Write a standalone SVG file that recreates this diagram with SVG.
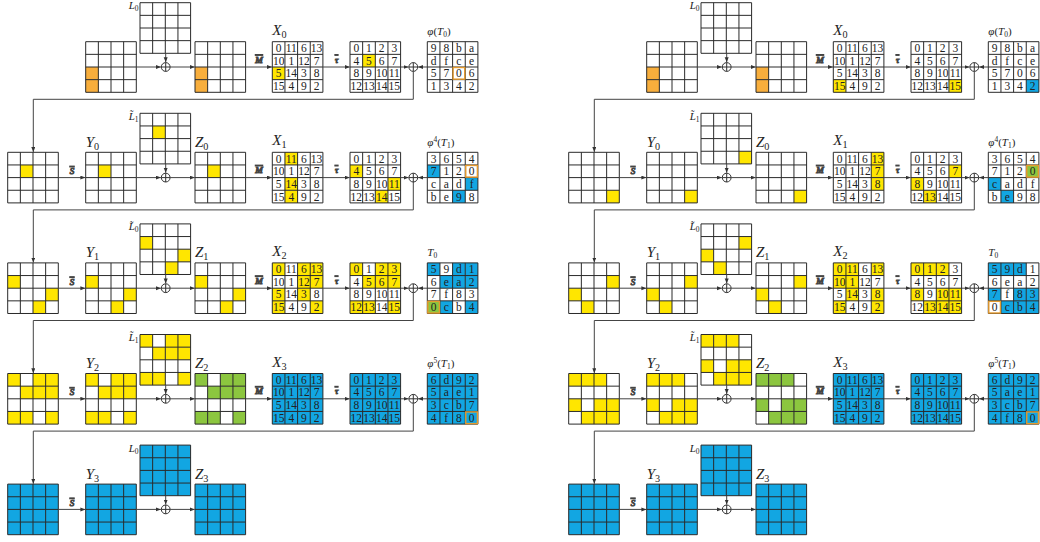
<svg xmlns="http://www.w3.org/2000/svg" width="1040" height="542" viewBox="0 0 1040 542">
<style>
.n{font-family:"Liberation Serif","DejaVu Serif",serif;font-size:11.5px;fill:#222;text-anchor:middle}
.lb{font-family:"Liberation Serif","DejaVu Serif",serif;font-style:italic;font-size:15px;fill:#222}
.ls{font-family:"Liberation Serif","DejaVu Serif",serif;font-style:italic;font-size:11px;fill:#222}
.ph{font-family:"Liberation Serif","DejaVu Serif",serif;font-size:11px;fill:#222}
.op{font-family:"Liberation Serif","DejaVu Serif",serif;font-style:italic;font-size:9px;fill:#333;text-anchor:middle;text-decoration:overline}
.sb{font-style:normal;font-size:0.68em}
.it{font-style:italic}
.y{fill:#FFE600}.o{fill:#F8AE3C}.b{fill:#12A6E2}.g{fill:#8CC63F}
.ob{fill:none;stroke:#E49A2E;stroke-width:1.4}
.grid{fill:none;stroke:#2a2a2a;stroke-width:1}
.cn{fill:none;stroke:#444;stroke-width:1}
.cn .a{marker-end:url(#ah)}
</style>
<defs>
<marker id="ah" markerUnits="userSpaceOnUse" markerWidth="6" markerHeight="5" refX="5" refY="2" orient="auto"><path d="M0,0L5,2L0,4z" fill="#333"/></marker>
<rect id="c" width="12.65" height="12.65"/>
<path id="grid" class="grid" d="M0 0H50.6V50.6H0ZM12.65 0V50.6M25.3 0V50.6M37.95 0V50.6M0 12.65H50.6M0 25.3H50.6M0 37.95H50.6"/>
<g id="xor"><circle r="4.4" fill="#fff" stroke="#333" stroke-width="1"/><path d="M-4.4 0H4.4M0 -4.4V4.4" stroke="#333" stroke-width="1"/></g>
<rect id="allb" class="b" width="50.6" height="50.6"/>
</defs>

<!-- ================= LEFT HALF ================= -->
<g id="left">
<g id="L1A" transform="translate(85.7,41.7)"><use href="#c" class="o" x="0" y="25.3"/><use href="#c" class="o" x="0" y="37.95"/><use href="#grid"/></g>
<g id="L1L" transform="translate(140,2.7)"><use href="#grid"/><text class="ls" x="-1.5" y="6.5" text-anchor="end">L<tspan class="sb" dy="2">0</tspan></text></g>
<g id="L1Z" transform="translate(195,41.7)"><use href="#c" class="o" x="0" y="25.3"/><use href="#c" class="o" x="0" y="37.95"/><use href="#grid"/></g>
<g id="L1X" transform="translate(272.3,41.7)"><use href="#c" class="y" x="0" y="25.3"/>
<text class="n" y="10.3"><tspan x="6.33">0</tspan><tspan x="18.98">11</tspan><tspan x="31.63">6</tspan><tspan x="44.28">13</tspan></text>
<text class="n" y="22.95"><tspan x="6.33">10</tspan><tspan x="18.98">1</tspan><tspan x="31.63">12</tspan><tspan x="44.28">7</tspan></text>
<text class="n" y="35.6"><tspan x="6.33">5</tspan><tspan x="18.98">14</tspan><tspan x="31.63">3</tspan><tspan x="44.28">8</tspan></text>
<text class="n" y="48.25"><tspan x="6.33">15</tspan><tspan x="18.98">4</tspan><tspan x="31.63">9</tspan><tspan x="44.28">2</tspan></text>
<use href="#grid"/><text class="lb" x="0" y="-7">X<tspan class="sb" dy="3">0</tspan></text></g>
<g id="L1T" transform="translate(350,41.7)"><use href="#c" class="y" x="12.65" y="12.65"/>
<text class="n" y="10.3"><tspan x="6.33">0</tspan><tspan x="18.98">1</tspan><tspan x="31.63">2</tspan><tspan x="44.28">3</tspan></text>
<text class="n" y="22.95"><tspan x="6.33">4</tspan><tspan x="18.98">5</tspan><tspan x="31.63">6</tspan><tspan x="44.28">7</tspan></text>
<text class="n" y="35.6"><tspan x="6.33">8</tspan><tspan x="18.98">9</tspan><tspan x="31.63">10</tspan><tspan x="44.28">11</tspan></text>
<text class="n" y="48.25"><tspan x="6.33">12</tspan><tspan x="18.98">13</tspan><tspan x="31.63">14</tspan><tspan x="44.28">15</tspan></text>
<use href="#grid"/></g>
<g id="L1P" transform="translate(427.3,41.7)">
<text class="n" y="10.3"><tspan x="6.33">9</tspan><tspan x="18.98">8</tspan><tspan x="31.63">b</tspan><tspan x="44.28">a</tspan></text>
<text class="n" y="22.95"><tspan x="6.33">d</tspan><tspan x="18.98">f</tspan><tspan x="31.63">c</tspan><tspan x="44.28">e</tspan></text>
<text class="n" y="35.6"><tspan x="6.33">5</tspan><tspan x="18.98">7</tspan><tspan x="31.63">0</tspan><tspan x="44.28">6</tspan></text>
<text class="n" y="48.25"><tspan x="6.33">1</tspan><tspan x="18.98">3</tspan><tspan x="31.63">4</tspan><tspan x="44.28">2</tspan></text>
<use href="#grid"/><rect class="ob" x="25.8" y="25.8" width="11.65" height="11.65"/>
<text class="ph" x="0" y="-6.5"><tspan class="it">φ</tspan>(<tspan class="it">T</tspan><tspan class="sb" dy="2">0</tspan><tspan dy="-2">)</tspan></text></g>

<g id="L2A" transform="translate(7.7,152.3)"><use href="#c" class="y" x="12.65" y="12.65"/><use href="#grid"/></g>
<g id="L2Y" transform="translate(85.7,152.3)"><use href="#c" class="y" x="12.65" y="12.65"/><use href="#grid"/><text class="lb" x="0" y="-5.5">Y<tspan class="sb" dy="3">0</tspan></text></g>
<g id="L2L" transform="translate(140,113.3)"><use href="#c" class="y" x="12.65" y="12.65"/><use href="#grid"/><text class="ls" x="-1.5" y="6.5" text-anchor="end">L̃<tspan class="sb" dy="2">1</tspan></text></g>
<g id="L2Z" transform="translate(195,152.3)"><use href="#c" class="y" x="12.65" y="12.65"/><use href="#grid"/><text class="lb" x="0" y="-5.5">Z<tspan class="sb" dy="3">0</tspan></text></g>
<g id="L2X" transform="translate(272.3,152.3)"><use href="#c" class="y" x="12.65" y="0"/><use href="#c" class="y" x="12.65" y="25.3"/><use href="#c" class="y" x="12.65" y="37.95"/>
<text class="n" y="10.3"><tspan x="6.33">0</tspan><tspan x="18.98">11</tspan><tspan x="31.63">6</tspan><tspan x="44.28">13</tspan></text>
<text class="n" y="22.95"><tspan x="6.33">10</tspan><tspan x="18.98">1</tspan><tspan x="31.63">12</tspan><tspan x="44.28">7</tspan></text>
<text class="n" y="35.6"><tspan x="6.33">5</tspan><tspan x="18.98">14</tspan><tspan x="31.63">3</tspan><tspan x="44.28">8</tspan></text>
<text class="n" y="48.25"><tspan x="6.33">15</tspan><tspan x="18.98">4</tspan><tspan x="31.63">9</tspan><tspan x="44.28">2</tspan></text>
<use href="#grid"/><text class="lb" x="0" y="-7">X<tspan class="sb" dy="3">1</tspan></text></g>
<g id="L2T" transform="translate(350,152.3)"><use href="#c" class="y" x="0" y="12.65"/><use href="#c" class="y" x="37.95" y="25.3"/><use href="#c" class="y" x="25.3" y="37.95"/>
<text class="n" y="10.3"><tspan x="6.33">0</tspan><tspan x="18.98">1</tspan><tspan x="31.63">2</tspan><tspan x="44.28">3</tspan></text>
<text class="n" y="22.95"><tspan x="6.33">4</tspan><tspan x="18.98">5</tspan><tspan x="31.63">6</tspan><tspan x="44.28">7</tspan></text>
<text class="n" y="35.6"><tspan x="6.33">8</tspan><tspan x="18.98">9</tspan><tspan x="31.63">10</tspan><tspan x="44.28">11</tspan></text>
<text class="n" y="48.25"><tspan x="6.33">12</tspan><tspan x="18.98">13</tspan><tspan x="31.63">14</tspan><tspan x="44.28">15</tspan></text>
<use href="#grid"/></g>
<g id="L2P" transform="translate(427.3,152.3)"><use href="#c" class="b" x="0" y="12.65"/><use href="#c" class="b" x="37.95" y="25.3"/><use href="#c" class="b" x="25.3" y="37.95"/>
<text class="n" y="10.3"><tspan x="6.33">3</tspan><tspan x="18.98">6</tspan><tspan x="31.63">5</tspan><tspan x="44.28">4</tspan></text>
<text class="n" y="22.95"><tspan x="6.33">7</tspan><tspan x="18.98">1</tspan><tspan x="31.63">2</tspan><tspan x="44.28">0</tspan></text>
<text class="n" y="35.6"><tspan x="6.33">c</tspan><tspan x="18.98">a</tspan><tspan x="31.63">d</tspan><tspan x="44.28">f</tspan></text>
<text class="n" y="48.25"><tspan x="6.33">b</tspan><tspan x="18.98">e</tspan><tspan x="31.63">9</tspan><tspan x="44.28">8</tspan></text>
<use href="#grid"/><rect class="ob" x="38.45" y="13.15" width="11.65" height="11.65"/>
<text class="ph" x="0" y="-6.5"><tspan class="it">φ</tspan><tspan class="sb" dy="-4">4</tspan><tspan dy="4">(</tspan><tspan class="it">T</tspan><tspan class="sb" dy="2">1</tspan><tspan dy="-2">)</tspan></text></g>

<g id="L3A" transform="translate(7.7,262.9)"><use href="#c" class="y" x="0" y="12.65"/><use href="#c" class="y" x="37.95" y="25.3"/><use href="#c" class="y" x="25.3" y="37.95"/><use href="#grid"/></g>
<g id="L3Y" transform="translate(85.7,262.9)"><use href="#c" class="y" x="0" y="12.65"/><use href="#c" class="y" x="37.95" y="25.3"/><use href="#c" class="y" x="25.3" y="37.95"/><use href="#grid"/><text class="lb" x="0" y="-5.5">Y<tspan class="sb" dy="3">1</tspan></text></g>
<g id="L3L" transform="translate(140,223.9)"><use href="#c" class="y" x="0" y="12.65"/><use href="#c" class="y" x="37.95" y="25.3"/><use href="#c" class="y" x="25.3" y="37.95"/><use href="#grid"/><text class="ls" x="-1.5" y="6.5" text-anchor="end">L̃<tspan class="sb" dy="2">0</tspan></text></g>
<g id="L3Z" transform="translate(195,262.9)"><use href="#c" class="y" x="0" y="12.65"/><use href="#c" class="y" x="37.95" y="25.3"/><use href="#c" class="y" x="25.3" y="37.95"/><use href="#grid"/><text class="lb" x="0" y="-5.5">Z<tspan class="sb" dy="3">1</tspan></text></g>
<g id="L3X" transform="translate(272.3,262.9)"><use href="#c" class="y" x="0" y="0"/><use href="#c" class="y" x="25.3" y="0"/><use href="#c" class="y" x="37.95" y="0"/><use href="#c" class="y" x="25.3" y="12.65"/><use href="#c" class="y" x="37.95" y="12.65"/><use href="#c" class="y" x="0" y="25.3"/><use href="#c" class="y" x="25.3" y="25.3"/><use href="#c" class="y" x="0" y="37.95"/><use href="#c" class="y" x="37.95" y="37.95"/>
<text class="n" y="10.3"><tspan x="6.33">0</tspan><tspan x="18.98">11</tspan><tspan x="31.63">6</tspan><tspan x="44.28">13</tspan></text>
<text class="n" y="22.95"><tspan x="6.33">10</tspan><tspan x="18.98">1</tspan><tspan x="31.63">12</tspan><tspan x="44.28">7</tspan></text>
<text class="n" y="35.6"><tspan x="6.33">5</tspan><tspan x="18.98">14</tspan><tspan x="31.63">3</tspan><tspan x="44.28">8</tspan></text>
<text class="n" y="48.25"><tspan x="6.33">15</tspan><tspan x="18.98">4</tspan><tspan x="31.63">9</tspan><tspan x="44.28">2</tspan></text>
<use href="#grid"/><text class="lb" x="0" y="-7">X<tspan class="sb" dy="3">2</tspan></text></g>
<g id="L3T" transform="translate(350,262.9)"><use href="#c" class="y" x="0" y="0"/><use href="#c" class="y" x="25.3" y="0"/><use href="#c" class="y" x="37.95" y="0"/><use href="#c" class="y" x="12.65" y="12.65"/><use href="#c" class="y" x="25.3" y="12.65"/><use href="#c" class="y" x="37.95" y="12.65"/><use href="#c" class="y" x="0" y="37.95"/><use href="#c" class="y" x="12.65" y="37.95"/><use href="#c" class="y" x="37.95" y="37.95"/>
<text class="n" y="10.3"><tspan x="6.33">0</tspan><tspan x="18.98">1</tspan><tspan x="31.63">2</tspan><tspan x="44.28">3</tspan></text>
<text class="n" y="22.95"><tspan x="6.33">4</tspan><tspan x="18.98">5</tspan><tspan x="31.63">6</tspan><tspan x="44.28">7</tspan></text>
<text class="n" y="35.6"><tspan x="6.33">8</tspan><tspan x="18.98">9</tspan><tspan x="31.63">10</tspan><tspan x="44.28">11</tspan></text>
<text class="n" y="48.25"><tspan x="6.33">12</tspan><tspan x="18.98">13</tspan><tspan x="31.63">14</tspan><tspan x="44.28">15</tspan></text>
<use href="#grid"/></g>
<g id="L3P" transform="translate(427.3,262.9)"><use href="#c" class="b" x="0" y="0"/><use href="#c" class="b" x="25.3" y="0"/><use href="#c" class="b" x="37.95" y="0"/><use href="#c" class="b" x="12.65" y="12.65"/><use href="#c" class="b" x="25.3" y="12.65"/><use href="#c" class="b" x="37.95" y="12.65"/><use href="#c" class="g" x="0" y="37.95"/><use href="#c" class="b" x="12.65" y="37.95"/><use href="#c" class="b" x="37.95" y="37.95"/>
<text class="n" y="10.3"><tspan x="6.33">5</tspan><tspan x="18.98">9</tspan><tspan x="31.63">d</tspan><tspan x="44.28">1</tspan></text>
<text class="n" y="22.95"><tspan x="6.33">6</tspan><tspan x="18.98">e</tspan><tspan x="31.63">a</tspan><tspan x="44.28">2</tspan></text>
<text class="n" y="35.6"><tspan x="6.33">7</tspan><tspan x="18.98">f</tspan><tspan x="31.63">8</tspan><tspan x="44.28">3</tspan></text>
<text class="n" y="48.25"><tspan x="6.33">0</tspan><tspan x="18.98">c</tspan><tspan x="31.63">b</tspan><tspan x="44.28">4</tspan></text>
<use href="#grid"/><rect class="ob" x="0.5" y="38.45" width="11.65" height="11.65"/>
<text class="ph" x="0" y="-6.5"><tspan class="it">T</tspan><tspan class="sb" dy="2">0</tspan></text></g>

<g id="L4A" transform="translate(7.7,373.5)"><use href="#c" class="y" x="0" y="0"/><use href="#c" class="y" x="25.3" y="0"/><use href="#c" class="y" x="37.95" y="0"/><use href="#c" class="y" x="12.65" y="12.65"/><use href="#c" class="y" x="25.3" y="12.65"/><use href="#c" class="y" x="37.95" y="12.65"/><use href="#c" class="y" x="0" y="37.95"/><use href="#c" class="y" x="12.65" y="37.95"/><use href="#c" class="y" x="37.95" y="37.95"/><use href="#grid"/></g>
<g id="L4Y" transform="translate(85.7,373.5)"><use href="#c" class="y" x="0" y="0"/><use href="#c" class="y" x="25.3" y="0"/><use href="#c" class="y" x="37.95" y="0"/><use href="#c" class="y" x="12.65" y="12.65"/><use href="#c" class="y" x="25.3" y="12.65"/><use href="#c" class="y" x="37.95" y="12.65"/><use href="#c" class="y" x="0" y="37.95"/><use href="#c" class="y" x="12.65" y="37.95"/><use href="#c" class="y" x="37.95" y="37.95"/><use href="#grid"/><text class="lb" x="0" y="-5.5">Y<tspan class="sb" dy="3">2</tspan></text></g>
<g id="L4L" transform="translate(140,334.5)"><use href="#c" class="y" x="0" y="0"/><use href="#c" class="y" x="25.3" y="0"/><use href="#c" class="y" x="37.95" y="0"/><use href="#c" class="y" x="12.65" y="12.65"/><use href="#c" class="y" x="25.3" y="12.65"/><use href="#c" class="y" x="37.95" y="12.65"/><use href="#c" class="y" x="0" y="37.95"/><use href="#c" class="y" x="12.65" y="37.95"/><use href="#c" class="y" x="37.95" y="37.95"/><use href="#grid"/><text class="ls" x="-1.5" y="6.5" text-anchor="end">L̃<tspan class="sb" dy="2">1</tspan></text></g>
<g id="L4Z" transform="translate(195,373.5)"><use href="#c" class="g" x="0" y="0"/><use href="#c" class="g" x="25.3" y="0"/><use href="#c" class="g" x="37.95" y="0"/><use href="#c" class="g" x="12.65" y="12.65"/><use href="#c" class="g" x="25.3" y="12.65"/><use href="#c" class="g" x="37.95" y="12.65"/><use href="#c" class="g" x="0" y="37.95"/><use href="#c" class="g" x="12.65" y="37.95"/><use href="#c" class="g" x="37.95" y="37.95"/><use href="#grid"/><text class="lb" x="0" y="-5.5">Z<tspan class="sb" dy="3">2</tspan></text></g>
<g id="L4X" transform="translate(272.3,373.5)"><use href="#allb"/>
<text class="n" y="10.3"><tspan x="6.33">0</tspan><tspan x="18.98">11</tspan><tspan x="31.63">6</tspan><tspan x="44.28">13</tspan></text>
<text class="n" y="22.95"><tspan x="6.33">10</tspan><tspan x="18.98">1</tspan><tspan x="31.63">12</tspan><tspan x="44.28">7</tspan></text>
<text class="n" y="35.6"><tspan x="6.33">5</tspan><tspan x="18.98">14</tspan><tspan x="31.63">3</tspan><tspan x="44.28">8</tspan></text>
<text class="n" y="48.25"><tspan x="6.33">15</tspan><tspan x="18.98">4</tspan><tspan x="31.63">9</tspan><tspan x="44.28">2</tspan></text>
<use href="#grid"/><text class="lb" x="0" y="-7">X<tspan class="sb" dy="3">3</tspan></text></g>
<g id="L4T" transform="translate(350,373.5)"><use href="#allb"/>
<text class="n" y="10.3"><tspan x="6.33">0</tspan><tspan x="18.98">1</tspan><tspan x="31.63">2</tspan><tspan x="44.28">3</tspan></text>
<text class="n" y="22.95"><tspan x="6.33">4</tspan><tspan x="18.98">5</tspan><tspan x="31.63">6</tspan><tspan x="44.28">7</tspan></text>
<text class="n" y="35.6"><tspan x="6.33">8</tspan><tspan x="18.98">9</tspan><tspan x="31.63">10</tspan><tspan x="44.28">11</tspan></text>
<text class="n" y="48.25"><tspan x="6.33">12</tspan><tspan x="18.98">13</tspan><tspan x="31.63">14</tspan><tspan x="44.28">15</tspan></text>
<use href="#grid"/></g>
<g id="L4P" transform="translate(427.3,373.5)"><use href="#allb"/>
<text class="n" y="10.3"><tspan x="6.33">6</tspan><tspan x="18.98">d</tspan><tspan x="31.63">9</tspan><tspan x="44.28">2</tspan></text>
<text class="n" y="22.95"><tspan x="6.33">5</tspan><tspan x="18.98">a</tspan><tspan x="31.63">e</tspan><tspan x="44.28">1</tspan></text>
<text class="n" y="35.6"><tspan x="6.33">3</tspan><tspan x="18.98">c</tspan><tspan x="31.63">b</tspan><tspan x="44.28">7</tspan></text>
<text class="n" y="48.25"><tspan x="6.33">4</tspan><tspan x="18.98">f</tspan><tspan x="31.63">8</tspan><tspan x="44.28">0</tspan></text>
<use href="#grid"/><rect class="ob" x="38.45" y="38.45" width="11.65" height="11.65"/>
<text class="ph" x="0" y="-6.5"><tspan class="it">φ</tspan><tspan class="sb" dy="-4">5</tspan><tspan dy="4">(</tspan><tspan class="it">T</tspan><tspan class="sb" dy="2">1</tspan><tspan dy="-2">)</tspan></text></g>

<g id="L5A" transform="translate(7.7,484.1)"><use href="#allb"/><use href="#grid"/></g>
<g id="L5Y" transform="translate(85.7,484.1)"><use href="#allb"/><use href="#grid"/><text class="lb" x="0" y="-5.5">Y<tspan class="sb" dy="3">3</tspan></text></g>
<g id="L5L" transform="translate(140,445.1)"><use href="#allb"/><use href="#grid"/><text class="ls" x="-1.5" y="6.5" text-anchor="end">L<tspan class="sb" dy="2">0</tspan></text></g>
<g id="L5Z" transform="translate(195,484.1)"><use href="#allb"/><use href="#grid"/><text class="lb" x="0" y="-5.5">Z<tspan class="sb" dy="3">3</tspan></text></g>

<g id="Lconn" class="cn">
<path class="a" d="M136.3 67H160.9"/><path class="a" d="M165.7 53.3V62.2"/><path class="a" d="M170.1 67H194.8"/><path class="a" d="M245.7 67H272"/><path class="a" d="M323 67H349.7"/><path class="a" d="M400.7 67H408.5"/><path class="a" d="M427.3 67H418.1"/><path class="a" d="M413.3 71.4V99.3H33.3V152"/>
<path class="a" d="M58.3 177.6H85.4"/><path class="a" d="M136.3 177.6H160.9"/><path class="a" d="M165.7 163.9V172.8"/><path class="a" d="M170.1 177.6H194.8"/><path class="a" d="M245.7 177.6H272"/><path class="a" d="M323 177.6H349.7"/><path class="a" d="M400.7 177.6H408.5"/><path class="a" d="M427.3 177.6H418.1"/><path class="a" d="M413.3 182V209.9H33.3V262.6"/>
<path class="a" d="M58.3 288.2H85.4"/><path class="a" d="M136.3 288.2H160.9"/><path class="a" d="M165.7 274.5V283.4"/><path class="a" d="M170.1 288.2H194.8"/><path class="a" d="M245.7 288.2H272"/><path class="a" d="M323 288.2H349.7"/><path class="a" d="M400.7 288.2H408.5"/><path class="a" d="M427.3 288.2H418.1"/><path class="a" d="M413.3 292.6V320.5H33.3V373.2"/>
<path class="a" d="M58.3 398.8H85.4"/><path class="a" d="M136.3 398.8H160.9"/><path class="a" d="M165.7 385.1V394"/><path class="a" d="M170.1 398.8H194.8"/><path class="a" d="M245.7 398.8H272"/><path class="a" d="M323 398.8H349.7"/><path class="a" d="M400.7 398.8H408.5"/><path class="a" d="M427.3 398.8H418.1"/><path class="a" d="M413.3 403.2V431.1H33.3V483.8"/>
<path class="a" d="M58.3 509.4H85.4"/><path class="a" d="M136.3 509.4H160.9"/><path class="a" d="M165.7 495.7V504.6"/><path class="a" d="M170.1 509.4H194.8"/>
<use href="#xor" x="165.7" y="67"/><use href="#xor" x="413.3" y="67"/>
<use href="#xor" x="165.7" y="177.6"/><use href="#xor" x="413.3" y="177.6"/>
<use href="#xor" x="165.7" y="288.2"/><use href="#xor" x="413.3" y="288.2"/>
<use href="#xor" x="165.7" y="398.8"/><use href="#xor" x="413.3" y="398.8"/>
<use href="#xor" x="165.7" y="509.4"/>
<text class="op" x="259" y="62.5">M</text><text class="op" x="336.5" y="62.5">τ</text>
<text class="op" x="259" y="173.1">M</text><text class="op" x="336.5" y="173.1">τ</text><text class="op" x="72" y="174.1">S</text>
<text class="op" x="259" y="283.7">M</text><text class="op" x="336.5" y="283.7">τ</text><text class="op" x="72" y="284.7">S</text>
<text class="op" x="259" y="394.3">M</text><text class="op" x="336.5" y="394.3">τ</text><text class="op" x="72" y="395.3">S</text>
<text class="op" x="72" y="505.9">S</text>
</g>
</g>

<!-- ================= RIGHT HALF ================= -->
<g id="right">
<g id="R1A" transform="translate(646.7,41.7)"><use href="#c" class="o" x="0" y="25.3"/><use href="#c" class="o" x="0" y="37.95"/><use href="#grid"/></g>
<g id="R1L" transform="translate(701,2.7)"><use href="#grid"/><text class="ls" x="-1.5" y="6.5" text-anchor="end">L<tspan class="sb" dy="2">0</tspan></text></g>
<g id="R1Z" transform="translate(756,41.7)"><use href="#c" class="o" x="0" y="25.3"/><use href="#c" class="o" x="0" y="37.95"/><use href="#grid"/></g>
<g id="R1X" transform="translate(833.3,41.7)"><use href="#c" class="y" x="0" y="37.95"/>
<text class="n" y="10.3"><tspan x="6.33">0</tspan><tspan x="18.98">11</tspan><tspan x="31.63">6</tspan><tspan x="44.28">13</tspan></text>
<text class="n" y="22.95"><tspan x="6.33">10</tspan><tspan x="18.98">1</tspan><tspan x="31.63">12</tspan><tspan x="44.28">7</tspan></text>
<text class="n" y="35.6"><tspan x="6.33">5</tspan><tspan x="18.98">14</tspan><tspan x="31.63">3</tspan><tspan x="44.28">8</tspan></text>
<text class="n" y="48.25"><tspan x="6.33">15</tspan><tspan x="18.98">4</tspan><tspan x="31.63">9</tspan><tspan x="44.28">2</tspan></text>
<use href="#grid"/><text class="lb" x="0" y="-7">X<tspan class="sb" dy="3">0</tspan></text></g>
<g id="R1T" transform="translate(911,41.7)"><use href="#c" class="y" x="37.95" y="37.95"/>
<text class="n" y="10.3"><tspan x="6.33">0</tspan><tspan x="18.98">1</tspan><tspan x="31.63">2</tspan><tspan x="44.28">3</tspan></text>
<text class="n" y="22.95"><tspan x="6.33">4</tspan><tspan x="18.98">5</tspan><tspan x="31.63">6</tspan><tspan x="44.28">7</tspan></text>
<text class="n" y="35.6"><tspan x="6.33">8</tspan><tspan x="18.98">9</tspan><tspan x="31.63">10</tspan><tspan x="44.28">11</tspan></text>
<text class="n" y="48.25"><tspan x="6.33">12</tspan><tspan x="18.98">13</tspan><tspan x="31.63">14</tspan><tspan x="44.28">15</tspan></text>
<use href="#grid"/></g>
<g id="R1P" transform="translate(988.3,41.7)"><use href="#c" class="b" x="37.95" y="37.95"/>
<text class="n" y="10.3"><tspan x="6.33">9</tspan><tspan x="18.98">8</tspan><tspan x="31.63">b</tspan><tspan x="44.28">a</tspan></text>
<text class="n" y="22.95"><tspan x="6.33">d</tspan><tspan x="18.98">f</tspan><tspan x="31.63">c</tspan><tspan x="44.28">e</tspan></text>
<text class="n" y="35.6"><tspan x="6.33">5</tspan><tspan x="18.98">7</tspan><tspan x="31.63">0</tspan><tspan x="44.28">6</tspan></text>
<text class="n" y="48.25"><tspan x="6.33">1</tspan><tspan x="18.98">3</tspan><tspan x="31.63">4</tspan><tspan x="44.28">2</tspan></text>
<use href="#grid"/>
<text class="ph" x="0" y="-6.5"><tspan class="it">φ</tspan>(<tspan class="it">T</tspan><tspan class="sb" dy="2">0</tspan><tspan dy="-2">)</tspan></text></g>

<g id="R2A" transform="translate(568.7,152.3)"><use href="#c" class="y" x="37.95" y="37.95"/><use href="#grid"/></g>
<g id="R2Y" transform="translate(646.7,152.3)"><use href="#c" class="y" x="37.95" y="37.95"/><use href="#grid"/><text class="lb" x="0" y="-5.5">Y<tspan class="sb" dy="3">0</tspan></text></g>
<g id="R2L" transform="translate(701,113.3)"><use href="#c" class="y" x="37.95" y="37.95"/><use href="#grid"/><text class="ls" x="-1.5" y="6.5" text-anchor="end">L̃<tspan class="sb" dy="2">1</tspan></text></g>
<g id="R2Z" transform="translate(756,152.3)"><use href="#c" class="y" x="37.95" y="37.95"/><use href="#grid"/><text class="lb" x="0" y="-5.5">Z<tspan class="sb" dy="3">0</tspan></text></g>
<g id="R2X" transform="translate(833.3,152.3)"><use href="#c" class="y" x="37.95" y="0"/><use href="#c" class="y" x="37.95" y="12.65"/><use href="#c" class="y" x="37.95" y="25.3"/>
<text class="n" y="10.3"><tspan x="6.33">0</tspan><tspan x="18.98">11</tspan><tspan x="31.63">6</tspan><tspan x="44.28">13</tspan></text>
<text class="n" y="22.95"><tspan x="6.33">10</tspan><tspan x="18.98">1</tspan><tspan x="31.63">12</tspan><tspan x="44.28">7</tspan></text>
<text class="n" y="35.6"><tspan x="6.33">5</tspan><tspan x="18.98">14</tspan><tspan x="31.63">3</tspan><tspan x="44.28">8</tspan></text>
<text class="n" y="48.25"><tspan x="6.33">15</tspan><tspan x="18.98">4</tspan><tspan x="31.63">9</tspan><tspan x="44.28">2</tspan></text>
<use href="#grid"/><text class="lb" x="0" y="-7">X<tspan class="sb" dy="3">1</tspan></text></g>
<g id="R2T" transform="translate(911,152.3)"><use href="#c" class="y" x="37.95" y="12.65"/><use href="#c" class="y" x="0" y="25.3"/><use href="#c" class="y" x="12.65" y="37.95"/>
<text class="n" y="10.3"><tspan x="6.33">0</tspan><tspan x="18.98">1</tspan><tspan x="31.63">2</tspan><tspan x="44.28">3</tspan></text>
<text class="n" y="22.95"><tspan x="6.33">4</tspan><tspan x="18.98">5</tspan><tspan x="31.63">6</tspan><tspan x="44.28">7</tspan></text>
<text class="n" y="35.6"><tspan x="6.33">8</tspan><tspan x="18.98">9</tspan><tspan x="31.63">10</tspan><tspan x="44.28">11</tspan></text>
<text class="n" y="48.25"><tspan x="6.33">12</tspan><tspan x="18.98">13</tspan><tspan x="31.63">14</tspan><tspan x="44.28">15</tspan></text>
<use href="#grid"/></g>
<g id="R2P" transform="translate(988.3,152.3)"><use href="#c" class="g" x="37.95" y="12.65"/><use href="#c" class="b" x="0" y="25.3"/><use href="#c" class="b" x="12.65" y="37.95"/>
<text class="n" y="10.3"><tspan x="6.33">3</tspan><tspan x="18.98">6</tspan><tspan x="31.63">5</tspan><tspan x="44.28">4</tspan></text>
<text class="n" y="22.95"><tspan x="6.33">7</tspan><tspan x="18.98">1</tspan><tspan x="31.63">2</tspan><tspan x="44.28">0</tspan></text>
<text class="n" y="35.6"><tspan x="6.33">c</tspan><tspan x="18.98">a</tspan><tspan x="31.63">d</tspan><tspan x="44.28">f</tspan></text>
<text class="n" y="48.25"><tspan x="6.33">b</tspan><tspan x="18.98">e</tspan><tspan x="31.63">9</tspan><tspan x="44.28">8</tspan></text>
<use href="#grid"/><rect class="ob" x="38.45" y="13.15" width="11.65" height="11.65"/>
<text class="ph" x="0" y="-6.5"><tspan class="it">φ</tspan><tspan class="sb" dy="-4">4</tspan><tspan dy="4">(</tspan><tspan class="it">T</tspan><tspan class="sb" dy="2">1</tspan><tspan dy="-2">)</tspan></text></g>

<g id="R3A" transform="translate(568.7,262.9)"><use href="#c" class="y" x="37.95" y="12.65"/><use href="#c" class="y" x="0" y="25.3"/><use href="#c" class="y" x="12.65" y="37.95"/><use href="#grid"/></g>
<g id="R3Y" transform="translate(646.7,262.9)"><use href="#c" class="y" x="37.95" y="12.65"/><use href="#c" class="y" x="0" y="25.3"/><use href="#c" class="y" x="12.65" y="37.95"/><use href="#grid"/><text class="lb" x="0" y="-5.5">Y<tspan class="sb" dy="3">1</tspan></text></g>
<g id="R3L" transform="translate(701,223.9)"><use href="#c" class="y" x="37.95" y="12.65"/><use href="#c" class="y" x="0" y="25.3"/><use href="#c" class="y" x="12.65" y="37.95"/><use href="#grid"/><text class="ls" x="-1.5" y="6.5" text-anchor="end">L̃<tspan class="sb" dy="2">0</tspan></text></g>
<g id="R3Z" transform="translate(756,262.9)"><use href="#c" class="y" x="37.95" y="12.65"/><use href="#c" class="y" x="0" y="25.3"/><use href="#c" class="y" x="12.65" y="37.95"/><use href="#grid"/><text class="lb" x="0" y="-5.5">Z<tspan class="sb" dy="3">1</tspan></text></g>
<g id="R3X" transform="translate(833.3,262.9)"><use href="#c" class="y" x="0" y="0"/><use href="#c" class="y" x="0" y="12.65"/><use href="#c" class="y" x="0" y="37.95"/><use href="#c" class="y" x="12.65" y="0"/><use href="#c" class="y" x="12.65" y="12.65"/><use href="#c" class="y" x="12.65" y="25.3"/><use href="#c" class="y" x="37.95" y="0"/><use href="#c" class="y" x="37.95" y="25.3"/><use href="#c" class="y" x="37.95" y="37.95"/>
<text class="n" y="10.3"><tspan x="6.33">0</tspan><tspan x="18.98">11</tspan><tspan x="31.63">6</tspan><tspan x="44.28">13</tspan></text>
<text class="n" y="22.95"><tspan x="6.33">10</tspan><tspan x="18.98">1</tspan><tspan x="31.63">12</tspan><tspan x="44.28">7</tspan></text>
<text class="n" y="35.6"><tspan x="6.33">5</tspan><tspan x="18.98">14</tspan><tspan x="31.63">3</tspan><tspan x="44.28">8</tspan></text>
<text class="n" y="48.25"><tspan x="6.33">15</tspan><tspan x="18.98">4</tspan><tspan x="31.63">9</tspan><tspan x="44.28">2</tspan></text>
<use href="#grid"/><text class="lb" x="0" y="-7">X<tspan class="sb" dy="3">2</tspan></text></g>
<g id="R3T" transform="translate(911,262.9)"><use href="#c" class="y" x="0" y="0"/><use href="#c" class="y" x="12.65" y="0"/><use href="#c" class="y" x="25.3" y="0"/><use href="#c" class="y" x="0" y="25.3"/><use href="#c" class="y" x="25.3" y="25.3"/><use href="#c" class="y" x="37.95" y="25.3"/><use href="#c" class="y" x="12.65" y="37.95"/><use href="#c" class="y" x="25.3" y="37.95"/><use href="#c" class="y" x="37.95" y="37.95"/>
<text class="n" y="10.3"><tspan x="6.33">0</tspan><tspan x="18.98">1</tspan><tspan x="31.63">2</tspan><tspan x="44.28">3</tspan></text>
<text class="n" y="22.95"><tspan x="6.33">4</tspan><tspan x="18.98">5</tspan><tspan x="31.63">6</tspan><tspan x="44.28">7</tspan></text>
<text class="n" y="35.6"><tspan x="6.33">8</tspan><tspan x="18.98">9</tspan><tspan x="31.63">10</tspan><tspan x="44.28">11</tspan></text>
<text class="n" y="48.25"><tspan x="6.33">12</tspan><tspan x="18.98">13</tspan><tspan x="31.63">14</tspan><tspan x="44.28">15</tspan></text>
<use href="#grid"/></g>
<g id="R3P" transform="translate(988.3,262.9)"><use href="#c" class="b" x="0" y="0"/><use href="#c" class="b" x="12.65" y="0"/><use href="#c" class="b" x="25.3" y="0"/><use href="#c" class="b" x="0" y="25.3"/><use href="#c" class="b" x="25.3" y="25.3"/><use href="#c" class="b" x="37.95" y="25.3"/><use href="#c" class="b" x="12.65" y="37.95"/><use href="#c" class="b" x="25.3" y="37.95"/><use href="#c" class="b" x="37.95" y="37.95"/>
<text class="n" y="10.3"><tspan x="6.33">5</tspan><tspan x="18.98">9</tspan><tspan x="31.63">d</tspan><tspan x="44.28">1</tspan></text>
<text class="n" y="22.95"><tspan x="6.33">6</tspan><tspan x="18.98">e</tspan><tspan x="31.63">a</tspan><tspan x="44.28">2</tspan></text>
<text class="n" y="35.6"><tspan x="6.33">7</tspan><tspan x="18.98">f</tspan><tspan x="31.63">8</tspan><tspan x="44.28">3</tspan></text>
<text class="n" y="48.25"><tspan x="6.33">0</tspan><tspan x="18.98">c</tspan><tspan x="31.63">b</tspan><tspan x="44.28">4</tspan></text>
<use href="#grid"/><rect class="ob" x="0.5" y="38.45" width="11.65" height="11.65"/>
<text class="ph" x="0" y="-6.5"><tspan class="it">T</tspan><tspan class="sb" dy="2">0</tspan></text></g>

<g id="R4A" transform="translate(568.7,373.5)"><use href="#c" class="y" x="0" y="0"/><use href="#c" class="y" x="12.65" y="0"/><use href="#c" class="y" x="25.3" y="0"/><use href="#c" class="y" x="0" y="25.3"/><use href="#c" class="y" x="25.3" y="25.3"/><use href="#c" class="y" x="37.95" y="25.3"/><use href="#c" class="y" x="12.65" y="37.95"/><use href="#c" class="y" x="25.3" y="37.95"/><use href="#c" class="y" x="37.95" y="37.95"/><use href="#grid"/></g>
<g id="R4Y" transform="translate(646.7,373.5)"><use href="#c" class="y" x="0" y="0"/><use href="#c" class="y" x="12.65" y="0"/><use href="#c" class="y" x="25.3" y="0"/><use href="#c" class="y" x="0" y="25.3"/><use href="#c" class="y" x="25.3" y="25.3"/><use href="#c" class="y" x="37.95" y="25.3"/><use href="#c" class="y" x="12.65" y="37.95"/><use href="#c" class="y" x="25.3" y="37.95"/><use href="#c" class="y" x="37.95" y="37.95"/><use href="#grid"/><text class="lb" x="0" y="-5.5">Y<tspan class="sb" dy="3">2</tspan></text></g>
<g id="R4L" transform="translate(701,334.5)"><use href="#c" class="y" x="0" y="0"/><use href="#c" class="y" x="12.65" y="0"/><use href="#c" class="y" x="25.3" y="0"/><use href="#c" class="y" x="0" y="25.3"/><use href="#c" class="y" x="25.3" y="25.3"/><use href="#c" class="y" x="37.95" y="25.3"/><use href="#c" class="y" x="12.65" y="37.95"/><use href="#c" class="y" x="25.3" y="37.95"/><use href="#c" class="y" x="37.95" y="37.95"/><use href="#grid"/><text class="ls" x="-1.5" y="6.5" text-anchor="end">L̃<tspan class="sb" dy="2">1</tspan></text></g>
<g id="R4Z" transform="translate(756,373.5)"><use href="#c" class="g" x="0" y="0"/><use href="#c" class="g" x="12.65" y="0"/><use href="#c" class="g" x="25.3" y="0"/><use href="#c" class="g" x="0" y="25.3"/><use href="#c" class="g" x="25.3" y="25.3"/><use href="#c" class="g" x="37.95" y="25.3"/><use href="#c" class="g" x="12.65" y="37.95"/><use href="#c" class="g" x="25.3" y="37.95"/><use href="#c" class="g" x="37.95" y="37.95"/><use href="#grid"/><text class="lb" x="0" y="-5.5">Z<tspan class="sb" dy="3">2</tspan></text></g>
<g id="R4X" transform="translate(833.3,373.5)"><use href="#allb"/>
<text class="n" y="10.3"><tspan x="6.33">0</tspan><tspan x="18.98">11</tspan><tspan x="31.63">6</tspan><tspan x="44.28">13</tspan></text>
<text class="n" y="22.95"><tspan x="6.33">10</tspan><tspan x="18.98">1</tspan><tspan x="31.63">12</tspan><tspan x="44.28">7</tspan></text>
<text class="n" y="35.6"><tspan x="6.33">5</tspan><tspan x="18.98">14</tspan><tspan x="31.63">3</tspan><tspan x="44.28">8</tspan></text>
<text class="n" y="48.25"><tspan x="6.33">15</tspan><tspan x="18.98">4</tspan><tspan x="31.63">9</tspan><tspan x="44.28">2</tspan></text>
<use href="#grid"/><text class="lb" x="0" y="-7">X<tspan class="sb" dy="3">3</tspan></text></g>
<g id="R4T" transform="translate(911,373.5)"><use href="#allb"/>
<text class="n" y="10.3"><tspan x="6.33">0</tspan><tspan x="18.98">1</tspan><tspan x="31.63">2</tspan><tspan x="44.28">3</tspan></text>
<text class="n" y="22.95"><tspan x="6.33">4</tspan><tspan x="18.98">5</tspan><tspan x="31.63">6</tspan><tspan x="44.28">7</tspan></text>
<text class="n" y="35.6"><tspan x="6.33">8</tspan><tspan x="18.98">9</tspan><tspan x="31.63">10</tspan><tspan x="44.28">11</tspan></text>
<text class="n" y="48.25"><tspan x="6.33">12</tspan><tspan x="18.98">13</tspan><tspan x="31.63">14</tspan><tspan x="44.28">15</tspan></text>
<use href="#grid"/></g>
<g id="R4P" transform="translate(988.3,373.5)"><use href="#allb"/>
<text class="n" y="10.3"><tspan x="6.33">6</tspan><tspan x="18.98">d</tspan><tspan x="31.63">9</tspan><tspan x="44.28">2</tspan></text>
<text class="n" y="22.95"><tspan x="6.33">5</tspan><tspan x="18.98">a</tspan><tspan x="31.63">e</tspan><tspan x="44.28">1</tspan></text>
<text class="n" y="35.6"><tspan x="6.33">3</tspan><tspan x="18.98">c</tspan><tspan x="31.63">b</tspan><tspan x="44.28">7</tspan></text>
<text class="n" y="48.25"><tspan x="6.33">4</tspan><tspan x="18.98">f</tspan><tspan x="31.63">8</tspan><tspan x="44.28">0</tspan></text>
<use href="#grid"/><rect class="ob" x="38.45" y="38.45" width="11.65" height="11.65"/>
<text class="ph" x="0" y="-6.5"><tspan class="it">φ</tspan><tspan class="sb" dy="-4">5</tspan><tspan dy="4">(</tspan><tspan class="it">T</tspan><tspan class="sb" dy="2">1</tspan><tspan dy="-2">)</tspan></text></g>

<g id="R5A" transform="translate(568.7,484.1)"><use href="#allb"/><use href="#grid"/></g>
<g id="R5Y" transform="translate(646.7,484.1)"><use href="#allb"/><use href="#grid"/><text class="lb" x="0" y="-5.5">Y<tspan class="sb" dy="3">3</tspan></text></g>
<g id="R5L" transform="translate(701,445.1)"><use href="#allb"/><use href="#grid"/><text class="ls" x="-1.5" y="6.5" text-anchor="end">L<tspan class="sb" dy="2">0</tspan></text></g>
<g id="R5Z" transform="translate(756,484.1)"><use href="#allb"/><use href="#grid"/><text class="lb" x="0" y="-5.5">Z<tspan class="sb" dy="3">3</tspan></text></g>

<g id="Rconn" class="cn" transform="translate(561,0)">
<path class="a" d="M136.3 67H160.9"/><path class="a" d="M165.7 53.3V62.2"/><path class="a" d="M170.1 67H194.8"/><path class="a" d="M245.7 67H272"/><path class="a" d="M323 67H349.7"/><path class="a" d="M400.7 67H408.5"/><path class="a" d="M427.3 67H418.1"/><path class="a" d="M413.3 71.4V99.3H33.3V152"/>
<path class="a" d="M58.3 177.6H85.4"/><path class="a" d="M136.3 177.6H160.9"/><path class="a" d="M165.7 163.9V172.8"/><path class="a" d="M170.1 177.6H194.8"/><path class="a" d="M245.7 177.6H272"/><path class="a" d="M323 177.6H349.7"/><path class="a" d="M400.7 177.6H408.5"/><path class="a" d="M427.3 177.6H418.1"/><path class="a" d="M413.3 182V209.9H33.3V262.6"/>
<path class="a" d="M58.3 288.2H85.4"/><path class="a" d="M136.3 288.2H160.9"/><path class="a" d="M165.7 274.5V283.4"/><path class="a" d="M170.1 288.2H194.8"/><path class="a" d="M245.7 288.2H272"/><path class="a" d="M323 288.2H349.7"/><path class="a" d="M400.7 288.2H408.5"/><path class="a" d="M427.3 288.2H418.1"/><path class="a" d="M413.3 292.6V320.5H33.3V373.2"/>
<path class="a" d="M58.3 398.8H85.4"/><path class="a" d="M136.3 398.8H160.9"/><path class="a" d="M165.7 385.1V394"/><path class="a" d="M170.1 398.8H194.8"/><path class="a" d="M245.7 398.8H272"/><path class="a" d="M323 398.8H349.7"/><path class="a" d="M400.7 398.8H408.5"/><path class="a" d="M427.3 398.8H418.1"/><path class="a" d="M413.3 403.2V431.1H33.3V483.8"/>
<path class="a" d="M58.3 509.4H85.4"/><path class="a" d="M136.3 509.4H160.9"/><path class="a" d="M165.7 495.7V504.6"/><path class="a" d="M170.1 509.4H194.8"/>
<use href="#xor" x="165.7" y="67"/><use href="#xor" x="413.3" y="67"/>
<use href="#xor" x="165.7" y="177.6"/><use href="#xor" x="413.3" y="177.6"/>
<use href="#xor" x="165.7" y="288.2"/><use href="#xor" x="413.3" y="288.2"/>
<use href="#xor" x="165.7" y="398.8"/><use href="#xor" x="413.3" y="398.8"/>
<use href="#xor" x="165.7" y="509.4"/>
<text class="op" x="259" y="62.5">M</text><text class="op" x="336.5" y="62.5">τ</text>
<text class="op" x="259" y="173.1">M</text><text class="op" x="336.5" y="173.1">τ</text><text class="op" x="72" y="174.1">S</text>
<text class="op" x="259" y="283.7">M</text><text class="op" x="336.5" y="283.7">τ</text><text class="op" x="72" y="284.7">S</text>
<text class="op" x="259" y="394.3">M</text><text class="op" x="336.5" y="394.3">τ</text><text class="op" x="72" y="395.3">S</text>
<text class="op" x="72" y="505.9">S</text>
</g>
</g>
</svg>
